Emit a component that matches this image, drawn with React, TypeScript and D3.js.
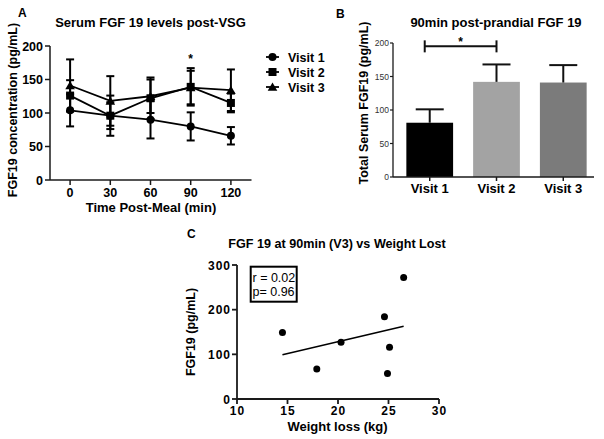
import React from "react";
import * as d3 from "d3";

// ---------- Panel A data ----------
const timePoints = [0, 30, 60, 90, 120];
const visitNames = ["Visit 1", "Visit 2", "Visit 3"];
const v1Mean = [104, 96, 90, 80, 66];
const v1Err = [24, 20, 28, 21, 13];
const v2Mean = [126, 96, 122, 139, 115];
const v2Err = [23, 30, 31, 28, 14];
const v3Mean = [141, 118, 125, 138, 134];
const v3Err = [39, 37, 25, 25, 31];
const aYTicks = [0, 50, 100, 150, 200];
const aSigTime = 90;

// ---------- Panel B data ----------
const barValues = [81, 142, 141];
const barErrors = [20, 26, 26];
const barColors = ["#000000", "#a3a3a3", "#7b7b7b"];
const bYTicks = [0, 50, 100, 150, 200];

// ---------- Panel C data ----------
const weightLoss = [14.5, 17.9, 20.3, 24.6, 25.1, 24.9, 26.5];
const fgf19 = [149, 67, 127, 184, 116, 57, 272];
const cXTicks = [10, 15, 20, 25, 30];
const cYTicks = [0, 100, 200, 300];

const FONT = "Arial, 'Liberation Sans', sans-serif";
const AX = "#1a1a1a";

function Marker({ kind, x, y }: { kind: number; x: number; y: number }) {
  if (kind === 0) return <circle cx={x} cy={y} r={4} fill="#000" />;
  if (kind === 1) return <rect x={x - 4} y={y - 4} width={8} height={8} fill="#000" />;
  const p = d3.symbol(d3.symbolTriangle, 40)();
  return <path d={p || ""} transform={`translate(${x},${y + 1})`} fill="#000" />;
}

export default function App() {
  // Panel A
  const xA = d3.scaleLinear().domain([-15, 135]).range([50, 251]);
  const yA = d3.scaleLinear().domain([0, 200]).range([180, 46]);
  const series = [
    { mean: v1Mean, err: v1Err },
    { mean: v2Mean, err: v2Err },
    { mean: v3Mean, err: v3Err },
  ];
  const lineA = d3
    .line<number>()
    .x((_, i) => xA(timePoints[i]))
    .y((d) => yA(d));

  // Panel B
  const xB = d3.scaleBand<string>().domain(visitNames).range([393, 600]).paddingInner(0.3).paddingOuter(0.2);
  const yB = d3.scaleLinear().domain([0, 200]).range([177, 43]);
  const bw = xB.bandwidth();

  // Panel C
  const xC = d3.scaleLinear().domain([10, 30]).range([237, 439]);
  const yC = d3.scaleLinear().domain([0, 300]).range([399, 265]);
  const mx = d3.mean(weightLoss) as number;
  const my = d3.mean(fgf19) as number;
  let sxy = 0,
    sxx = 0;
  weightLoss.forEach((x, i) => {
    sxy += (x - mx) * (fgf19[i] - my);
    sxx += (x - mx) * (x - mx);
  });
  const slope = sxy / sxx;
  const icpt = my - slope * mx;
  const xMin = d3.min(weightLoss) as number;
  const xMax = d3.max(weightLoss) as number;

  return (
    <svg
      width={604}
      height={439}
      style={{ position: "absolute", left: 0, top: 0, background: "#fff" }}
      fontFamily={FONT}
    >
      <rect width={604} height={439} fill="#fff" />
      {/* ================= Panel A ================= */}
      <text x={18} y={17} fontSize={12} fontWeight="bold">A</text>
      <text x={150.5} y={27} fontSize={13} fontWeight="bold" textAnchor="middle">
        Serum FGF 19 levels post-VSG
      </text>
      <text
        transform={`translate(17,${(yA(0) + yA(200)) / 2 - 3}) rotate(-90)`}
        fontSize={12.5}
        fontWeight="bold"
        textAnchor="middle"
      >
        FGF19 concentration (pg/mL)
      </text>
      {/* axes */}
      <line x1={50} x2={50} y1={yA(200)} y2={yA(0)} stroke={AX} strokeWidth={1.5} />
      <line x1={50} x2={251.5} y1={yA(0)} y2={yA(0)} stroke={AX} strokeWidth={1.5} />
      {aYTicks.map((t) => (
        <g key={t}>
          <line x1={45} x2={50} y1={yA(t)} y2={yA(t)} stroke={AX} strokeWidth={1.5} />
          <text x={43} y={yA(t) + 4.5} fontSize={12.5} fontWeight="bold" textAnchor="end">
            {t}
          </text>
        </g>
      ))}
      {timePoints.map((t) => (
        <g key={t}>
          <line x1={xA(t)} x2={xA(t)} y1={yA(0)} y2={yA(0) + 5} stroke={AX} strokeWidth={1.5} />
          <text x={xA(t)} y={197} fontSize={12.5} fontWeight="bold" textAnchor="middle">
            {t}
          </text>
        </g>
      ))}
      <text x={151} y={212} fontSize={13} fontWeight="bold" textAnchor="middle">
        Time Post-Meal (min)
      </text>
      {/* series */}
      {series.map((s, k) => (
        <g key={k}>
          <path d={lineA(s.mean) || ""} fill="none" stroke="#000" strokeWidth={1.8} />
          {s.mean.map((m, i) => {
            const x = xA(timePoints[i]);
            const lo = yA(m - s.err[i]);
            const hi = yA(m + s.err[i]);
            return (
              <g key={i}>
                <line x1={x} x2={x} y1={lo} y2={hi} stroke="#000" strokeWidth={2} />
                <line x1={x - 4} x2={x + 4} y1={lo} y2={lo} stroke="#000" strokeWidth={2} />
                <line x1={x - 4} x2={x + 4} y1={hi} y2={hi} stroke="#000" strokeWidth={2} />
                <Marker kind={k} x={x} y={yA(m)} />
              </g>
            );
          })}
        </g>
      ))}
      <text x={xA(aSigTime)} y={63} fontSize={12} fontWeight="bold" textAnchor="middle">
        *
      </text>
      {/* legend */}
      {visitNames.map((v, k) => {
        const y = 57 + k * 15;
        return (
          <g key={v}>
            <line x1={266} x2={279} y1={y} y2={y} stroke="#000" strokeWidth={1.8} />
            <Marker kind={k} x={272.5} y={y} />
            <text x={288} y={y + 4.5} fontSize={12.5} fontWeight="bold">
              {v}
            </text>
          </g>
        );
      })}

      {/* ================= Panel B ================= */}
      <text x={336} y={18} fontSize={12} fontWeight="bold">B</text>
      <text x={496} y={27} fontSize={13} fontWeight="bold" textAnchor="middle">
        90min post-prandial FGF 19
      </text>
      <text
        transform={`translate(368,103) rotate(-90)`}
        fontSize={12.5}
        fontWeight="bold"
        textAnchor="middle"
      >
        Total Serum FGF19 (pg/mL)
      </text>
      {visitNames.map((v, i) => {
        const x = xB(v) as number;
        const cx = x + bw / 2;
        const top = yB(barValues[i]);
        const cap = yB(barValues[i] + barErrors[i]);
        return (
          <g key={v}>
            <rect x={x} y={top} width={bw} height={yB(0) - top} fill={barColors[i]} />
            <line x1={cx} x2={cx} y1={top} y2={cap} stroke="#111" strokeWidth={2} />
            <line x1={cx - 14} x2={cx + 14} y1={cap} y2={cap} stroke="#111" strokeWidth={2} />
            <line x1={cx} x2={cx} y1={yB(0)} y2={yB(0) + 4} stroke={AX} strokeWidth={1.5} />
            <text x={cx} y={193} fontSize={13} fontWeight="bold" textAnchor="middle">
              {v}
            </text>
          </g>
        );
      })}
      <line x1={393} x2={393} y1={yB(200)} y2={yB(0)} stroke={AX} strokeWidth={1.3} />
      <line x1={393} x2={594} y1={yB(0)} y2={yB(0)} stroke={AX} strokeWidth={1.3} />
      {bYTicks.map((t) => (
        <g key={t}>
          <line x1={390} x2={393} y1={yB(t)} y2={yB(t)} stroke={AX} strokeWidth={1.2} />
          <text x={389} y={yB(t) + 3} fontSize={8.5} fill="#333" textAnchor="end">
            {t}
          </text>
        </g>
      ))}
      {(() => {
        const x1 = (xB(visitNames[0]) as number) + bw / 2 - 5;
        const x2 = (xB(visitNames[1]) as number) + bw / 2;
        const y = yB(195);
        return (
          <g>
            <line x1={x1} x2={x2} y1={y} y2={y} stroke="#111" strokeWidth={2} />
            <line x1={x1} x2={x1} y1={y - 6} y2={y + 6} stroke="#111" strokeWidth={2} />
            <line x1={x2} x2={x2} y1={y - 6} y2={y + 6} stroke="#111" strokeWidth={2} />
            <text x={(x1 + x2) / 2} y={y} fontSize={12} fontWeight="bold" textAnchor="middle">
              *
            </text>
          </g>
        );
      })()}

      {/* ================= Panel C ================= */}
      <text x={187} y={238} fontSize={12} fontWeight="bold">C</text>
      <text x={337} y={248} fontSize={12.6} fontWeight="bold" textAnchor="middle">
        FGF 19 at 90min (V3) vs Weight Lost
      </text>
      <text
        transform={`translate(195,332) rotate(-90)`}
        fontSize={12.5}
        fontWeight="bold"
        textAnchor="middle"
      >
        FGF19 (pg/mL)
      </text>
      <line x1={237} x2={237} y1={yC(300)} y2={yC(0)} stroke={AX} strokeWidth={1.8} />
      <line x1={237} x2={439} y1={yC(0)} y2={yC(0)} stroke={AX} strokeWidth={1.8} />
      {cYTicks.map((t) => (
        <g key={t}>
          <line x1={232} x2={237} y1={yC(t)} y2={yC(t)} stroke={AX} strokeWidth={1.8} />
          <text x={231} y={yC(t) + 4.5} fontSize={12} fontWeight="bold" textAnchor="end" letterSpacing={1}>
            {t}
          </text>
        </g>
      ))}
      {cXTicks.map((t) => (
        <g key={t}>
          <line x1={xC(t)} x2={xC(t)} y1={yC(0)} y2={yC(0) + 5} stroke={AX} strokeWidth={1.8} />
          <text x={xC(t) + 0.5} y={415} fontSize={12} fontWeight="bold" textAnchor="middle" letterSpacing={1}>
            {t}
          </text>
        </g>
      ))}
      <text x={337.5} y={431} fontSize={13} fontWeight="bold" textAnchor="middle">
        Weight loss (kg)
      </text>
      <line
        x1={xC(xMin)}
        x2={xC(xMax)}
        y1={yC(icpt + slope * xMin)}
        y2={yC(icpt + slope * xMax)}
        stroke="#000"
        strokeWidth={1.5}
      />
      {weightLoss.map((w, i) => (
        <circle key={i} cx={xC(w)} cy={yC(fgf19[i])} r={3.5} fill="#000" />
      ))}
      <rect x={250.7} y={266.7} width={46} height={35} fill="none" stroke="#000" strokeWidth={2} />
      <text x={252.5} y={281.5} fontSize={12.5}>r = 0.02</text>
      <text x={252.5} y={296} fontSize={12.5}>p= 0.96</text>
    </svg>
  );
}
